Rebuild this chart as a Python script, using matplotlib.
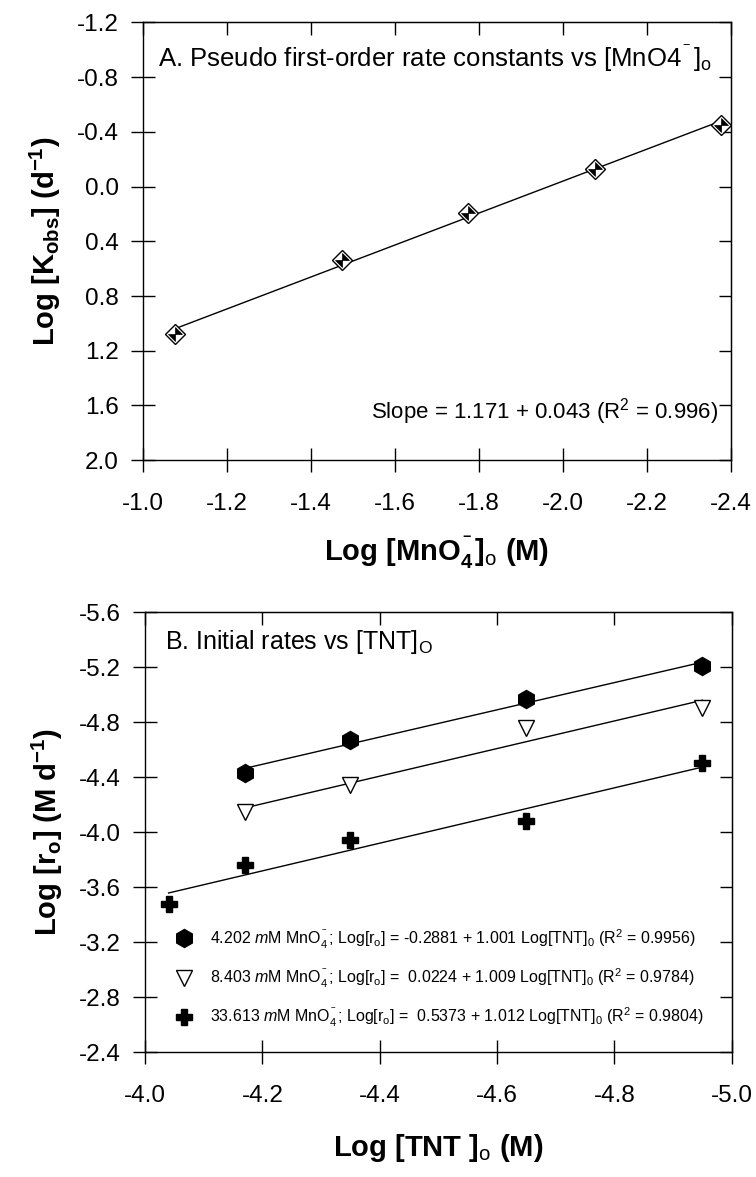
import matplotlib
matplotlib.use('Agg')
import matplotlib.pyplot as plt
from matplotlib.path import Path
from matplotlib.ticker import FormatStrFormatter
import numpy as np

plt.rcParams['font.family'] = ['Liberation Sans', 'DejaVu Sans']
plt.rcParams['mathtext.fontset'] = 'custom'
plt.rcParams['mathtext.rm'] = 'Liberation Sans'
plt.rcParams['mathtext.it'] = 'Liberation Sans:italic'
plt.rcParams['mathtext.bf'] = 'Liberation Sans:bold'
plt.rcParams['mathtext.default'] = 'regular'
plt.rcParams['axes.unicode_minus'] = False

# panel A: pseudo first-order rate constants
logMnO4 = [-1.076, -1.473, -1.775, -2.075, -2.377]
logKobs = [1.08, 0.54, 0.19, -0.13, -0.45]

# panel B: initial rates
logTNT = [-4.04, -4.17, -4.35, -4.65, -4.95]
r_4202 = [-4.43, -4.67, -4.97, -5.21]     # no point at -4.04
r_8403 = [-4.15, -4.34, -4.76, -4.90]     # no point at -4.04
r_33613 = [-3.48, -3.76, -3.94, -4.08, -4.50]

xticksA = [-1.0, -1.2, -1.4, -1.6, -1.8, -2.0, -2.2, -2.4]
yticksA = [-1.2, -0.8, -0.4, 0.0, 0.4, 0.8, 1.2, 1.6, 2.0]
xticksB = [-4.0, -4.2, -4.4, -4.6, -4.8, -5.0]
yticksB = [-5.6, -5.2, -4.8, -4.4, -4.0, -3.6, -3.2, -2.8, -2.4]

labels_B = [
    r'4.202 $\it{m}$M MnO$_4^{^-}$; Log[r$_o$] = -0.2881 + 1.001 Log[TNT]$_0$ (R$^2$ = 0.9956)',
    r'8.403 $\it{m}$M MnO$_4^{^-}$; Log[r$_o$] =  0.0224 + 1.009 Log[TNT]$_0$ (R$^2$ = 0.9784)',
    r'33.613 $\it{m}$M MnO$_4^{^-}$; Log[r$_o$] =  0.5373 + 1.012 Log[TNT]$_0$ (R$^2$ = 0.9804)',
]

# half filled diamond (bowtie of black triangles inside an open diamond)
bowtie = Path([(0, 0), (0, 1), (1, 0), (0, 0), (0, 0), (0, -1), (-1, 0), (0, 0)],
              [Path.MOVETO, Path.LINETO, Path.LINETO, Path.CLOSEPOLY,
               Path.MOVETO, Path.LINETO, Path.LINETO, Path.CLOSEPOLY])


def style_axes(ax, xt, yt):
    ax.set_xticks(xt)
    ax.set_yticks(yt)
    ax.xaxis.set_major_formatter(FormatStrFormatter('%.1f'))
    ax.yaxis.set_major_formatter(FormatStrFormatter('%.1f'))
    ax.tick_params(direction='inout', length=17, width=1.0, labelsize=17.5)
    ax.tick_params(axis='x', pad=15)
    ax.tick_params(axis='y', pad=9)
    top = ax.secondary_xaxis('top')
    top.set_xticks(xt)
    top.tick_params(direction='in', length=9, width=1.0, labeltop=False)
    right = ax.secondary_yaxis('right')
    right.set_yticks(yt)
    right.tick_params(direction='in', length=9, width=1.0, labelright=False)
    for s in ax.spines.values():
        s.set_linewidth(1.0)


fig = plt.figure(figsize=(7.56, 11.77), dpi=100)

# ---- panel A
axA = fig.add_axes([0.189, 0.609, 0.778, 0.372])
xa = np.array(logMnO4)
ya = np.array(logKobs)
p = np.polyfit(xa, ya, 1)
axA.plot(xa, np.polyval(p, xa), color='black', lw=1.0, zorder=2)
axA.plot(xa, ya, ls='none', marker='D', ms=10, mfc='white', mec='black', mew=1.0, zorder=3)
axA.plot(xa, ya, ls='none', marker=bowtie, ms=10, mfc='black', mec='black', mew=0.5, zorder=4)
axA.set_xlim(-1.0, -2.4)
axA.set_ylim(2.0, -1.2)
style_axes(axA, xticksA, yticksA)
axA.text(0.025, 0.916, r'A. Pseudo first-order rate constants vs [MnO4$^{^-}$]$_{\rm o}$',
         transform=axA.transAxes, fontsize=18.5, va='center', ha='left')
axA.text(0.978, 0.11, r'Slope = 1.171 + 0.043 (R$^2$ = 0.996)',
         transform=axA.transAxes, fontsize=16, va='center', ha='right')
axA.set_xlabel(r'Log [MnO$_4^{^-}$]$_{\rm o}$ (M)', fontsize=21, fontweight='bold', labelpad=14)
axA.set_ylabel(r'Log [K$_{obs}$] (d$^{-1}$)', fontsize=21, fontweight='bold', labelpad=10)

# ---- panel B
axB = fig.add_axes([0.192, 0.106, 0.776, 0.374])
xb = np.array(logTNT)
series = [
    (xb[1:], np.array(r_4202), dict(marker='h', ms=13, mfc='black', mec='black')),
    (xb[1:], np.array(r_8403), dict(marker='v', ms=12, mfc='white', mec='black', mew=1.0)),
    (xb, np.array(r_33613), dict(marker='P', ms=12, mfc='black', mec='black')),
]
handles = []
for (xs, ys, st) in series:
    p = np.polyfit(xs, ys, 1)
    axB.plot(xs, np.polyval(p, xs), color='black', lw=1.0, zorder=2)
    h, = axB.plot(xs, ys, ls='none', zorder=3, **st)
    handles.append(h)
axB.set_xlim(-4.0, -5.0)
axB.set_ylim(-2.4, -5.6)
style_axes(axB, xticksB, yticksB)
axB.text(0.034, 0.932, r'B. Initial rates vs [TNT]$_{\rm O}$',
         transform=axB.transAxes, fontsize=18, va='center', ha='left')
axB.legend(handles, labels_B, loc='lower left', bbox_to_anchor=(0.045, 0.053),
           frameon=False, fontsize=11.5, handletextpad=0.9, labelspacing=1.0,
           handlelength=1.5, borderaxespad=0, borderpad=0)
axB.set_xlabel(r'Log [TNT ]$_{\rm o}$ (M)', fontsize=21, fontweight='bold', labelpad=18)
axB.set_ylabel(r'Log [r$_o$] (M d$^{-1}$)', fontsize=21, fontweight='bold', labelpad=10)

fig.savefig('out.png', dpi=100)
